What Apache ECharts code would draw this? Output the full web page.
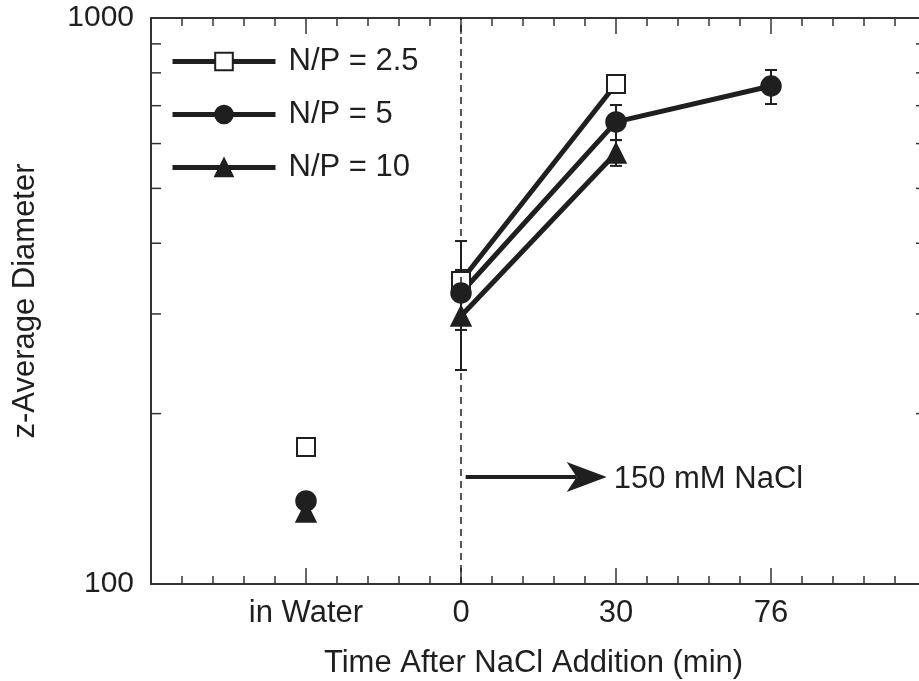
<!DOCTYPE html>
<html>
<head>
<meta charset="utf-8">
<script src="https://cdn.jsdelivr.net/npm/echarts@6/dist/echarts.min.js"></script>
<style>
html,body{margin:0;padding:0;background:#fff;}
#chart{width:919px;height:681px;}
</style>
</head>
<body>
<div id="chart"></div>
<script>
// ---- data ----
const xTickLabels = ['', 'in Water', '0', '30', '76', ''];
const seriesNames = ['N/P = 2.5', 'N/P = 5', 'N/P = 10'];
// [x position, z-average diameter]
const np25Water = [[1, 174.6]];
const np5Water  = [[1, 140.2]];
const np10Water = [[1, 134.0]];
const np25Salt = [[2, 343], [3, 764.5]];
const np5Salt  = [[2, 326.7], [3, 655.2], [4, 758.4]];
const np10Salt = [[2, 297.6], [3, 577.3]];
// error bars [x, low, high]
const np25Err = [[2, 281.1, 403.6]];
const np5Err  = [[3, 608.6, 702], [4, 704.7, 809.4]];
const np10Err = [[2, 238.8, 358.8], [3, 547.9, 608.6]];
const yMinorTicks = [200, 300, 400, 500, 600, 700, 800, 900];
const saltAdditionX = 2;
const arrowStart = [2.03, 154.6];
const arrowEnd = [2.94, 154.6];
const arrowText = '150 mM NaCl';

const INK = '#1f1f1f';
const FONT = 'Liberation Sans, Arial, sans-serif';
const FS = 31;

const chart = echarts.init(document.getElementById('chart'), null, {renderer: 'canvas'});

function errRender(params, api) {
  const x = api.value(0);
  const lo = api.coord([x, api.value(1)]);
  const hi = api.coord([x, api.value(2)]);
  const w = 6;
  const st = {stroke: INK, lineWidth: 2};
  return {type: 'group', children: [
    {type: 'line', shape: {x1: lo[0], y1: lo[1], x2: hi[0], y2: hi[1]}, style: st},
    {type: 'line', shape: {x1: lo[0]-w, y1: lo[1], x2: lo[0]+w, y2: lo[1]}, style: st},
    {type: 'line', shape: {x1: hi[0]-w, y1: hi[1], x2: hi[0]+w, y2: hi[1]}, style: st}
  ]};
}

const lineCommon = {
  type: 'line', color: INK, lineStyle: {color: INK, width: 5}, z: 3,
  itemStyle: {color: INK, borderColor: INK, borderWidth: 1.5, opacity: 1}
};
const scatterStyle = {color: INK, borderColor: INK, borderWidth: 1.5, opacity: 1};

const axisLineStyle = {lineStyle: {color: '#333', width: 2}};

const option = {
  animation: false,
  backgroundColor: '#fff',
  textStyle: {fontFamily: FONT},
  grid: {left: 151, width: 775, top: 18, bottom: 97, containLabel: false, outerBoundsMode: 'none'},
  legend: {
    orient: 'vertical', left: 170, top: 46, padding: 0,
    itemWidth: 103, itemHeight: 22, itemGap: 22,
    lineStyle: {width: 5, color: INK},
    textStyle: {fontSize: FS, color: INK, fontFamily: FONT, padding: [0, 0, 0, 8]},
    data: seriesNames
  },
  xAxis: [{
    type: 'value', min: 0, max: 5, interval: 1, position: 'bottom',
    axisLine: axisLineStyle,
    axisTick: {inside: true, length: 16, lineStyle: {color: '#333', width: 1.5}},
    minorTick: {show: true, splitNumber: 5, length: 8, lineStyle: {color: '#333', width: 1.5}},
    splitLine: {show: false},
    axisLabel: {fontSize: FS, color: INK, fontFamily: FONT, margin: 14,
      formatter: v => xTickLabels[Math.round(v)] || ''},
    name: 'Time After NaCl Addition (min)', nameLocation: 'middle', nameGap: 64,
    nameTextStyle: {fontSize: FS, color: INK, fontFamily: FONT, padding: [0, 10, 0, 0]}
  }, {
    type: 'value', min: 0, max: 5, interval: 1, position: 'top',
    axisLine: axisLineStyle,
    axisTick: {inside: true, length: 16, lineStyle: {color: '#333', width: 1.5}},
    minorTick: {show: true, splitNumber: 5, length: 8, lineStyle: {color: '#333', width: 1.5}},
    splitLine: {show: false}, axisLabel: {show: false}
  }],
  yAxis: [{
    type: 'log', logBase: 10, min: 100, max: 1000, position: 'left',
    axisLine: {show: true, lineStyle: {color: '#333', width: 2}},
    axisTick: {show: false}, splitLine: {show: false},
    axisLabel: {fontSize: 30, color: INK, fontFamily: FONT, margin: 17,
      formatter: v => String(Math.round(v))},
    name: 'z-Average Diameter', nameLocation: 'middle', nameGap: 110,
    nameTextStyle: {fontSize: FS, color: INK, fontFamily: FONT}
  }, {
    type: 'log', logBase: 10, min: 100, max: 1000, position: 'right',
    axisLine: {show: true, lineStyle: {color: '#333', width: 2}},
    axisTick: {show: false}, splitLine: {show: false}, axisLabel: {show: false}
  }],
  series: [
    Object.assign({}, lineCommon, {name: seriesNames[0], data: np25Salt, symbol: 'emptyRect', symbolSize: 18,
      markLine: {silent: true, symbol: 'none', label: {show: false},
        lineStyle: {type: [7, 5], color: INK, width: 1.5},
        data: [{xAxis: saltAdditionX}]}}),
    Object.assign({}, lineCommon, {name: seriesNames[1], data: np5Salt, symbol: 'circle', symbolSize: 20}),
    Object.assign({}, lineCommon, {name: seriesNames[2], data: np10Salt, symbol: 'triangle', symbolSize: 20}),
    {type: 'scatter', name: seriesNames[0], data: np25Water, symbol: 'emptyRect', symbolSize: 18, z: 3,
      itemStyle: scatterStyle},
    {type: 'scatter', name: seriesNames[1], data: np5Water, symbol: 'circle', symbolSize: 20, z: 3,
      itemStyle: scatterStyle},
    {type: 'scatter', name: seriesNames[2], data: np10Water, symbol: 'triangle', symbolSize: 20, z: 3,
      itemStyle: scatterStyle},
    {type: 'custom', name: 'err25', data: np25Err, renderItem: errRender, z: 2, silent: true},
    {type: 'custom', name: 'err5', data: np5Err, renderItem: errRender, z: 2, silent: true},
    {type: 'custom', name: 'err10', data: np10Err, renderItem: errRender, z: 2, silent: true},
    {type: 'custom', name: 'yticks', data: yMinorTicks.map(v => [0, v]), silent: true, clip: false, z: 1,
      renderItem: function (params, api) {
        const v = api.value(1);
        const l = api.coord([0, v]);
        const r = api.coord([5, v]);
        const st = {stroke: '#333', lineWidth: 1.5};
        return {type: 'group', children: [
          {type: 'line', shape: {x1: l[0], y1: l[1], x2: l[0] + 10, y2: l[1]}, style: st},
          {type: 'line', shape: {x1: r[0] - 10, y1: r[1], x2: r[0], y2: r[1]}, style: st}
        ]};
      }},
    {type: 'custom', name: 'arrow', data: [[arrowStart[0], arrowStart[1], arrowEnd[0], arrowEnd[1]]],
      silent: true, clip: false, z: 4,
      renderItem: function (params, api) {
        const a = api.coord([api.value(0), api.value(1)]);
        const b = api.coord([api.value(2), api.value(3)]);
        const hl = 40, hw = 15, notch = 10;
        return {type: 'group', children: [
          {type: 'line', shape: {x1: a[0], y1: a[1], x2: b[0] - hl + notch, y2: b[1]},
            style: {stroke: INK, lineWidth: 4}},
          {type: 'polygon', shape: {points: [[b[0], b[1]], [b[0] - hl, b[1] - hw],
            [b[0] - hl + notch, b[1]], [b[0] - hl, b[1] + hw]]}, style: {fill: INK}},
          {type: 'text', x: b[0] + 7, y: b[1] + 3, style: {text: arrowText, fill: INK,
            font: FS + 'px ' + FONT, verticalAlign: 'middle', align: 'left'}}
        ]};
      }}
  ]
};
chart.setOption(option);
</script>
</body>
</html>
